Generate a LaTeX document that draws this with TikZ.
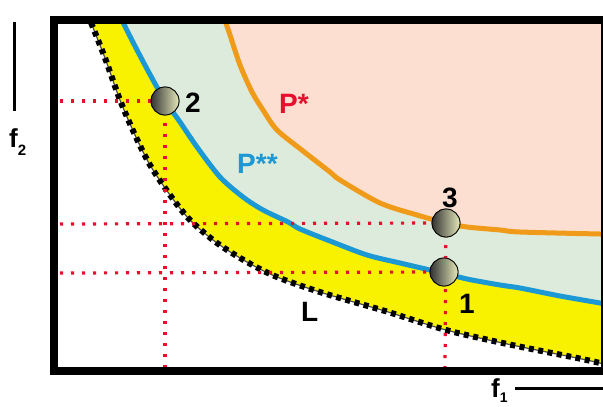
\documentclass[tikz,border=0pt]{standalone}
\usepackage{fontspec}
\setmainfont{Liberation Sans}
\definecolor{yel}{RGB}{248,242,0}
\definecolor{grn}{RGB}{221,235,221}
\definecolor{pch}{RGB}{252,223,208}
\definecolor{blu}{RGB}{28,152,212}
\definecolor{org}{RGB}{240,154,26}
\definecolor{redd}{RGB}{230,16,45}
\definecolor{ballr}{RGB}{228,232,184}
\tikzset{
  reddot/.style={draw=redd, line width=3.2pt, dash pattern=on 3.2pt off 7.8pt},
  ball/.style={circle, minimum size=28pt, inner sep=0pt, draw=black, line width=0.8pt,
    left color=black!80, right color=ballr},
  lbl/.style={anchor=base west, inner sep=0pt, font=\bfseries\fontsize{28}{28}\selectfont},
  axlbl/.style={anchor=base west, inner sep=0pt, font=\bfseries\fontsize{26}{26}\selectfont},
  curveline/.style={line width=5pt, line join=round},
}
\newcommand{\Lpts}{(84,5) (90,20) (105,58) (120,100) (135,135) (150,165) (170,195) (190,220) (217,243) (247,262) (277,277) (323,293) (385,311) (446,330) (512,345) (577,358) (600,363) (615,367)}
\newcommand{\Bpts}{(117,5) (122,20) (137,50) (153,80) (165,101) (180,122) (197,147) (220,177) (243,197) (263,210) (288,222) (300,229) (330,241) (367,255) (400,263) (430,270) (444,273) (467,279) (500,285) (520,288) (560,296) (600,303) (615,306)}
\newcommand{\Opts}{(221,5) (225,20) (230,35) (240,65) (252,92) (263,110) (277,130) (303,151) (330,172) (340,180) (380,203) (417,215) (446,223) (467,227) (500,230) (520,232) (600,234) (615,234)}
\begin{document}
\begin{tikzpicture}[x=1pt,y=-1pt]
\useasboundingbox (0,0) rectangle (603,407);
\begin{scope}
  \clip (50,16) rectangle (601,367);
  \fill[yel] plot[smooth] coordinates {\Lpts} -- (620,380) -- (620,0) -- cycle;
  \fill[grn] plot[smooth] coordinates {\Bpts} -- (620,0) -- cycle;
  \fill[pch] plot[smooth, tension=0.5] coordinates {\Opts} -- (620,0) -- cycle;
  \draw[black!70, line width=1.2pt] plot[smooth] coordinates {\Lpts};
  \draw[black, line width=6pt, dash pattern=on 5pt off 4.5pt] plot[smooth] coordinates {\Lpts};
  \draw[blu, curveline] plot[smooth] coordinates {\Bpts};
  \draw[org, curveline] plot[smooth, tension=0.5] coordinates {\Opts};
\end{scope}
% balls
\node[ball] (b2) at (165,101) {};
\node[ball] (b3) at (446,223) {};
\node[ball] (b1) at (444,272) {};
% red guide lines
\coordinate (l2) at (60,101);
\coordinate (l3) at (60,224);
\coordinate (l1) at (60,273);
\coordinate (d2) at (165,367);
\coordinate (d1) at (445,368);
\draw[reddot] (l2) -- (b2.center);
\draw[reddot] (b2.center) -- (d2);
\draw[reddot] (l3) -- (b3.center);
\draw[reddot] (l1) -- (b1.center);
\draw[reddot] (b3.center) -- (d1);
% redraw balls on top
\node[ball] at (b2.center) {};
\node[ball] at (b3.center) {};
\node[ball] at (b1.center) {};
% frame
\node[draw=black, line width=8pt, minimum width=551pt, minimum height=351pt, inner sep=0pt, anchor=north west] (frame) at (50,16) {};
% labels
\node[lbl] (t2) at (185,112) {2};
\node[lbl] (t3) at (442,207) {3};
\node[lbl] (t1) at (459,313) {1};
\node[lbl] (tL) at (301,321) {L};
\node[lbl, text=redd] (tPs) at (279,113) {P*};
\node[lbl, text=blu] (tPss) at (237,173) {P**};
% axes
\coordinate (a2t) at (14,22);
\coordinate (a2b) at (14,111);
\draw[line width=3pt] (a2t) -- (a2b);
\node[axlbl] (f2) at (9,147) {f\raisebox{-8pt}{\fontsize{15}{15}\selectfont 2}};
\coordinate (a1l) at (515,388);
\coordinate (a1r) at (603,388);
\draw[line width=3pt] (a1l) -- (a1r);
\node[axlbl] (f1) at (491,397) {f\raisebox{-5pt}{\fontsize{14}{14}\selectfont 1}};
\end{tikzpicture}
\end{document}
